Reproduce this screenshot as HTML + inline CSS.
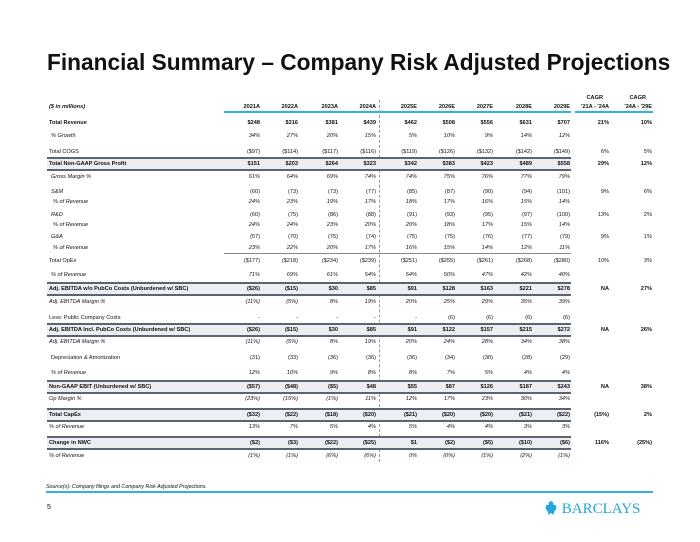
<!DOCTYPE html>
<html><head><meta charset="utf-8">
<style>
body{margin:0;width:700px;height:542px;background:#fff;position:relative;overflow:hidden;font-family:"Liberation Sans",Arial,sans-serif;color:#111}
.t{position:absolute;font-size:5.6px;line-height:7px;white-space:nowrap}
.r{text-align:right}
.b{font-weight:bold}
.i{font-style:italic}
.box{position:absolute;left:47px;width:524px;height:10px;background:#eceef1;border-top:2px solid #5b6472;border-bottom:2px solid #5b6472}
.ln{position:absolute}
</style></head><body>
<div class="t b" style="left:47px;top:48px;font-size:22.7px;line-height:28px;">Financial Summary – Company Risk Adjusted Projections</div>
<div class="ln" style="left:224px;top:111px;width:347px;height:2px;background:#2fb3e6"></div>
<div class="ln" style="left:575px;top:111px;width:78px;height:2px;background:#2fb3e6"></div>
<div class="ln" style="left:224px;top:253px;width:347px;height:1px;background:#888"></div>
<div class="ln" style="left:379px;top:100px;height:362px;border-left:1px dashed #999"></div>
<div id="tbl"></div>
<div class="t i" style="left:46px;top:484px;font-size:5.3px">Source(s): Company filings and Company Risk Adjusted Projections.</div>
<div class="ln" style="left:46px;top:491px;width:607px;height:2px;background:#2fb3e6"></div>
<div class="t" style="left:47px;top:503px;font-size:7px;line-height:9px">5</div>
<div style="position:absolute;left:544px;top:500px;color:#1ea7e0;font-family:'Liberation Serif',serif;font-size:15px;line-height:18px;white-space:nowrap">
<svg width="14" height="16" viewBox="0 0 14 16" style="vertical-align:-3px"><path d="M7 1 C5 2 4 3 5 5 C2 4 1 7 2 9 C3 11 5 12 4 15 L7 13 L10 15 C9 12 11 11 12 9 C13 7 12 4 9 5 C10 3 9 2 7 1Z" fill="#1ea7e0"/></svg> BARCLAYS</div>
<script>
const colRight=[260,298,338,376,417,455,493,532,570,609,652];
const headers=["2021A","2022A","2023A","2024A","2025E","2026E","2027E","2028E","2029E","'21A - '24A","'24A - '29E"];
const rowLabels=["Total Revenue","% Growth","Total COGS","Total Non-GAAP Gross Profit","Gross Margin %","S&M","% of Revenue","R&D","% of Revenue","G&A","% of Revenue","Total OpEx","% of Revenue","Adj. EBITDA w/o PubCo Costs (Unburdened w/ SBC)","Adj. EBITDA Margin %","Less: Public Company Costs","Adj. EBITDA Incl. PubCo Costs (Unburdened w/ SBC)","Adj. EBITDA Margin %","Depreciation & Amortization","% of Revenue","Non-GAAP EBIT (Unburdened w/ SBC)","Op Margin %","Total CapEx","% of Revenue","Change in NWC","% of Revenue"];
const rowValues=[
["$248","$316","$381","$439","$462","$508","$556","$631","$707","21%","10%"],
["34%","27%","20%","15%","5%","10%","9%","14%","12%","",""],
["($97)","($114)","($117)","($116)","($119)","($126)","($132)","($142)","($149)","6%","5%"],
["$151","$203","$264","$323","$342","$383","$423","$489","$558","29%","12%"],
["61%","64%","69%","74%","74%","75%","76%","77%","79%","",""],
["(60)","(73)","(73)","(77)","(85)","(87)","(90)","(94)","(101)","9%","6%"],
["24%","23%","19%","17%","18%","17%","16%","15%","14%","",""],
["(60)","(75)","(86)","(88)","(91)","(93)","(95)","(97)","(100)","13%","2%"],
["24%","24%","23%","20%","20%","18%","17%","15%","14%","",""],
["(57)","(70)","(75)","(74)","(75)","(75)","(76)","(77)","(79)","9%","1%"],
["23%","22%","20%","17%","16%","15%","14%","12%","11%","",""],
["($177)","($218)","($234)","($239)","($251)","($255)","($261)","($268)","($280)","10%","3%"],
["71%","69%","61%","54%","54%","50%","47%","42%","40%","",""],
["($26)","($15)","$30","$85","$91","$128","$163","$221","$278","NA","27%"],
["(11%)","(5%)","8%","19%","20%","25%","29%","35%","39%","",""],
["-","-","-","-","-","(6)","(6)","(6)","(6)","",""],
["($26)","($15)","$30","$85","$91","$122","$157","$215","$272","NA","26%"],
["(11%)","(5%)","8%","19%","20%","24%","28%","34%","38%","",""],
["(31)","(33)","(36)","(36)","(36)","(34)","(30)","(28)","(29)","",""],
["12%","10%","9%","8%","8%","7%","5%","4%","4%","",""],
["($57)","($48)","($5)","$48","$55","$87","$126","$187","$243","NA","38%"],
["(23%)","(15%)","(1%)","11%","12%","17%","23%","30%","34%","",""],
["($32)","($22)","($18)","($20)","($21)","($20)","($20)","($21)","($22)","(15%)","2%"],
["13%","7%","5%","4%","5%","4%","4%","3%","3%","",""],
["($2)","($3)","($22)","($25)","$1","($2)","($5)","($10)","($6)","116%","(25%)"],
["(1%)","(1%)","(6%)","(6%)","0%","(0%)","(1%)","(2%)","(1%)","",""]
];
const rowY=[123,136,152,164,177,192,202,215,225,237,248,261,275,289,302,318,330,342,358,373,387,399,415,427,443,456];
const rowStyle=["b","i ind","","box","i ind","il ind","i ind2","il ind","i ind2","il ind","i ind2","","i ind","box","i","","box","i","ind","i ind","box","i","box","i","box","i"];
const T=document.getElementById('tbl');
function mk(txt,x,y,cls,right){const d=document.createElement('div');d.className='t '+cls;d.textContent=txt;
if(right){d.style.right=(700-x)+'px';d.classList.add('r')}else d.style.left=x+'px';d.style.top=(y-3.5)+'px';T.appendChild(d);return d;}
const lab=mk("($ in millions)",49,107,"b i",false);


headers.forEach((h,j)=>{const d=mk(h,colRight[j],107,"b",true);

});
["CAGR","CAGR"].forEach((h,j)=>{const d=mk(h,colRight[9+j]-6,98,"b",true);

});
rowLabels.forEach((l,i)=>{const s=rowStyle[i];const y=rowY[i];
if(s.includes('box')){const bx=document.createElement('div');bx.className='box';bx.style.top=(y-7)+'px';


T.appendChild(bx);}
let cls=(s.includes('b')||s.includes('box'))?'b':'';
let vcls=cls;
if(s.split(' ').includes('i')){cls+=' i';vcls+=' i';}
if(s.includes('il'))cls+=' i';
let x=49+(s.includes('ind2')?4:s.includes('ind')?2:0);
const d=mk(l,x,y,cls,false);


rowValues[i].forEach((v,j)=>{if(!v)return;const c=mk(v,colRight[j],y,vcls,true);

});
});
</script>
</body></html>
